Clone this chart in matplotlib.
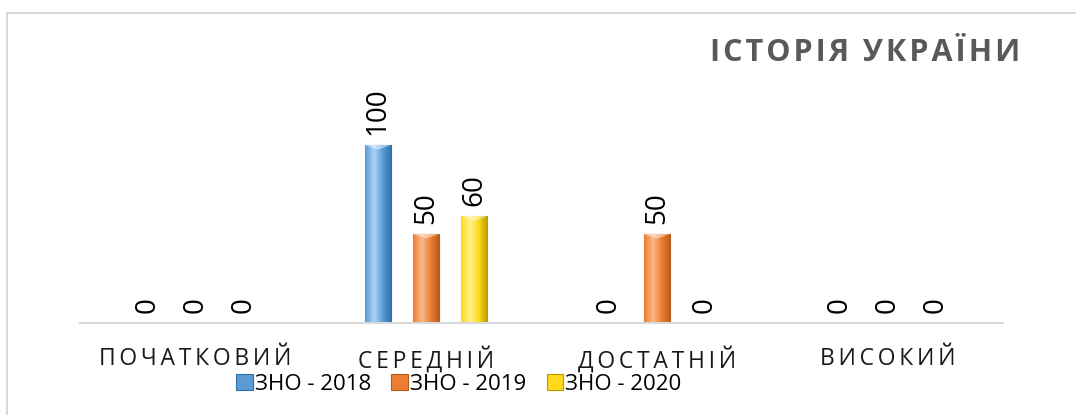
import numpy as np
import matplotlib
matplotlib.use("Agg")
import matplotlib.pyplot as plt
from matplotlib.colors import LinearSegmentedColormap
from matplotlib.patches import Rectangle

# ── data ──────────────────────────────────────────────────────────────────
categories = ["ПОЧАТКОВИЙ", "СЕРЕДНІЙ", "ДОСТАТНІЙ", "ВИСОКИЙ"]
series     = ["ЗНО - 2018", "ЗНО - 2019", "ЗНО - 2020"]
zno_2018   = [0, 100, 0, 0]
zno_2019   = [0, 50, 50, 0]
zno_2020   = [0, 60, 0, 0]
values     = [zno_2018, zno_2019, zno_2020]
title      = "ІСТОРІЯ УКРАЇНИ"

# (light, mid, dark edge) for the glossy bars
palettes = [("#a9d4f7", "#5b9bd5", "#2f6ea8"),
            ("#f9b98a", "#ed7d31", "#b85a1a"),
            ("#fff38a", "#ffd91a", "#b89b00")]

plt.rcParams["font.family"] = ["Open Sans", "DejaVu Sans"]

W, H = 1076, 415
fig = plt.figure(figsize=(W / 100, H / 100), dpi=100)
fig.patch.set_facecolor("white")

# chart border (runs off the right and bottom edge)
fig.add_artist(Rectangle((7 / W, -0.1), 1.2, 1 - 13 / H + 0.1, transform=fig.transFigure,
                         fill=False, edgecolor="#d9d9d9", linewidth=1.5))

ax = fig.add_axes([80 / W, (H - 323) / H, (1003 - 80) / W, (323 - 109.4) / H])
ax.set_xlim(-0.5, len(categories) - 0.5)
ax.set_ylim(0, 120)
for s in ["top", "right", "left"]:
    ax.spines[s].set_visible(False)
ax.spines["bottom"].set_color("#d9d9d9")
ax.spines["bottom"].set_linewidth(1.5)
ax.set_yticks([])
ax.set_facecolor("none")

x = np.arange(len(categories))
width = 0.113
offset = 0.209

handles = []
for i, (vals, name, (lt, md, dk)) in enumerate(zip(values, series, palettes)):
    pos = x + (i - 1) * offset
    bars = ax.bar(pos, vals, width, color=md, edgecolor=dk, linewidth=0.8,
                  label=name, zorder=2)
    cmap = LinearSegmentedColormap.from_list("g", [md, lt, md, dk])
    grad = np.linspace(0, 1, 64).reshape(1, -1)
    for b, v in zip(bars, vals):
        if v > 0:
            im = ax.imshow(grad, cmap=cmap, aspect="auto", zorder=2.5,
                           extent=(b.get_x(), b.get_x() + b.get_width(), 0, v))
            im.set_clip_path(b)
            # little bevel triangle at the top
            bx, bw = b.get_x(), b.get_width()
            ax.fill([bx, bx + bw, bx + bw / 2], [v, v, v - 2.6], color="white",
                    alpha=0.45, zorder=3, linewidth=0)
        ax.annotate(f"{v}", (b.get_x() + b.get_width() / 2, v),
                    xytext=(0, 7), textcoords="offset points",
                    rotation=90, ha="center", va="bottom", fontsize=20,
                    color="black", zorder=4)
    handles.append(bars)

ax.set_xticks(x)
ax.set_xticklabels([" ".join(c).replace(" ", "\u2009") for c in categories],
                   fontsize=16.5, color="#1a1a1a")
ax.tick_params(axis="x", length=0, pad=17)

fig.text(1020 / W, 1 - 53 / H, "\u200a".join(title), ha="right", va="center",
         fontsize=22, fontweight="bold", color="#595959")

fig.legend(handles, series, loc="center", bbox_to_anchor=(459 / W, 1 - 384 / H),
           ncol=3, frameon=False, fontsize=16, handlelength=0.75, handleheight=0.75,
           handletextpad=0.1, columnspacing=0.9, borderaxespad=0, labelcolor="black")

fig.savefig("out.png", dpi=100)
